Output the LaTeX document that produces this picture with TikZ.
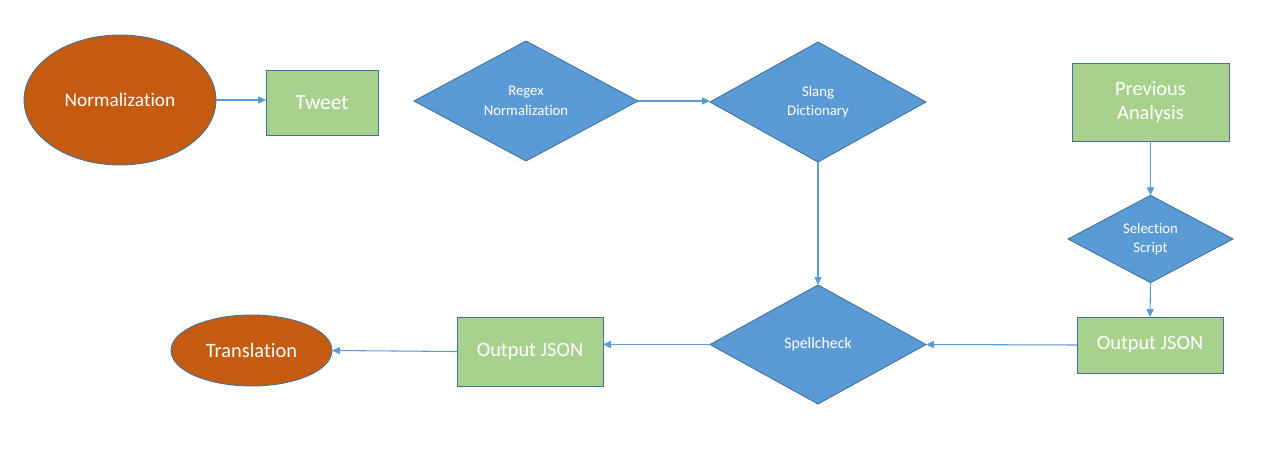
\documentclass[tikz,border=0pt]{standalone}
\usepackage{fontspec}
\setmainfont{Carlito}[Ligatures=NoCommon]
\usetikzlibrary{shapes.geometric,arrows.meta}
\definecolor{rust}{HTML}{C55A11}
\definecolor{leaf}{HTML}{A9D18E}
\definecolor{sky}{HTML}{5B9BD5}
\definecolor{rim}{HTML}{41719C}

\begin{document}
\begin{tikzpicture}[x=0.02cm,y=-0.02cm,
		oval/.style={ellipse,draw=rim,fill=rust,text=white,line width=0.5pt,inner sep=0pt,outer sep=0pt,font=\fontsize{11}{13}\selectfont},
		box/.style={rectangle,draw=rim,fill=leaf,text=white,line width=0.5pt,inner sep=0pt,outer sep=0pt,align=center,font=\fontsize{11.6}{14}\selectfont},
		decide/.style={diamond,draw=rim,fill=sky,text=white,line width=0.5pt,inner sep=0pt,outer sep=0pt,align=center,font=\fontsize{8.4}{11.2}\selectfont},
		flow/.style={draw=sky,line width=0.6pt,-{Triangle[length=4.5pt,width=4pt]}}]
			\useasboundingbox (0,0) rectangle (1282,460);
			% top row
			\node[oval,minimum width=3.84cm,minimum height=2.6cm] (norm) at (120,100) {Normalization};
			\node[box,font=\fontsize{12.2}{14}\selectfont,minimum width=2.24cm,minimum height=1.3cm] (tweet) at (322,102.5) {Tweet};
			\node[decide,minimum width=4.48cm,minimum height=2.4cm] (regex) at (526,101) {Regex\\Normalization};
			\node[decide,minimum width=4.32cm,minimum height=2.4cm] (slang) at (818,102) {Slang\\Dictionary};
			\node[box,minimum width=3.14cm,minimum height=1.56cm] (prev) at (1150.5,102) {Previous\\Analysis};
			% right column
			\node[decide,minimum width=3.3cm,minimum height=1.56cm] (select) at (1150.5,239) {Selection\\Script};
			\node[box,minimum width=2.92cm,minimum height=1.12cm] (outR) at (1150,345) {Output JSON};
			% bottom row
			\node[decide,font=\fontsize{9}{11}\selectfont,minimum width=4.32cm,minimum height=2.38cm] (spell) at (818,344.5) {Spellcheck};
			\node[box,minimum width=2.92cm,minimum height=1.38cm] (outL) at (530,351.5) {Output JSON};
			\node[oval,font=\fontsize{11.6}{14}\selectfont,minimum width=3.22cm,minimum height=1.42cm] (trans) at (251.5,350.5) {Translation};
			% connectors
			\draw[flow] (norm.east) -- (norm.east -| tweet.west);
			\draw[flow] (regex.east) -- (regex.east -| slang.west);
			\draw[flow] (slang.south) -- (spell.north);
			\draw[flow] (prev.south) -- (select.north);
			\draw[flow] (select.south) -- (outR.north);
			\draw[flow] (outR.west) -- (spell.east);
			\draw[flow] (spell.west) -- (spell.west -| outL.east);
			\draw[flow] (outL.west) -- (trans.east);
		\end{tikzpicture}
\end{document}
